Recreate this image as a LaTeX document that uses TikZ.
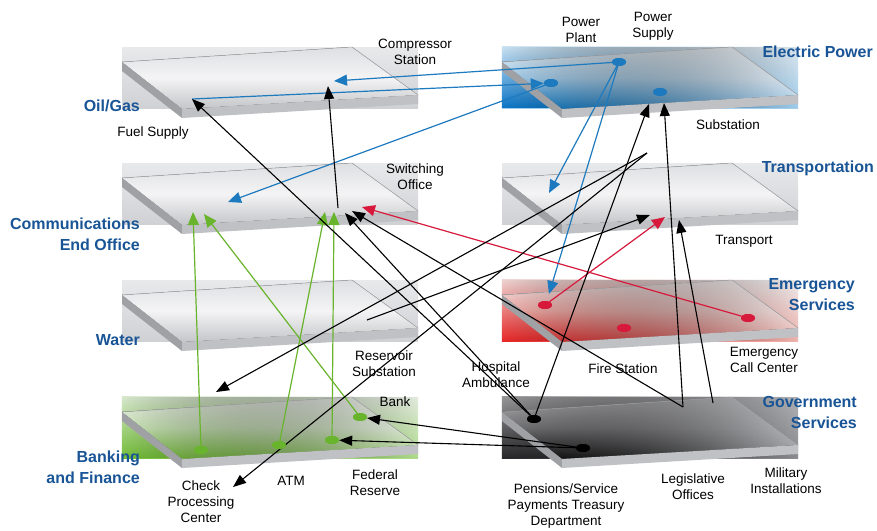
\documentclass[tikz,border=0pt]{standalone}
\usepackage{fontspec}
\setmainfont{Liberation Sans}
\usetikzlibrary{arrows.meta,shapes.geometric,fadings}
\definecolor{lblue}{RGB}{25,85,150}
\definecolor{ablue}{RGB}{30,122,190}
\definecolor{ared}{RGB}{215,25,60}
\definecolor{agreen}{RGB}{105,180,45}
\definecolor{edgec}{RGB}{165,166,169}
\definecolor{sidedark}{RGB}{160,161,165}
\definecolor{sidelight}{RGB}{192,193,196}
\tikzfading[name=fadeR, left color=transparent!0, right color=transparent!100]
\tikzset{
  bgG/.style={top color={rgb,255:red,232;green,233;blue,235}, bottom color={rgb,255:red,208;green,209;blue,212}},
  faceG/.style={top color={rgb,255:red,222;green,223;blue,226}, bottom color={rgb,255:red,196;green,197;blue,200}, middle color={rgb,255:red,244;green,244;blue,245}},
  notint/.style={fill opacity=0},
  % electric
  bgE/.style={top color={rgb,255:red,222;green,232;blue,240}, bottom color={rgb,255:red,160;green,205;blue,235}},
  faceE/.style={top color={rgb,255:red,238;green,243;blue,247}, bottom color={rgb,255:red,165;green,207;blue,237}, middle color={rgb,255:red,228;green,238;blue,246}},
  bgEt/.style={top color={rgb,255:red,200;green,225;blue,242}, bottom color={rgb,255:red,10;green,118;blue,200}, path fading=fadeR},
  faceEt/.style={top color={rgb,255:red,232;green,240;blue,247}, bottom color={rgb,255:red,20;green,128;blue,205}, middle color={rgb,255:red,165;green,207;blue,237}, path fading=fadeR},
  % emergency
  bgR/.style={top color={rgb,255:red,238;green,236;blue,236}, bottom color={rgb,255:red,240;green,180;blue,175}},
  faceR/.style={top color={rgb,255:red,244;green,240;blue,240}, bottom color={rgb,255:red,240;green,185;blue,180}, middle color={rgb,255:red,243;green,228;blue,226}},
  bgRt/.style={top color={rgb,255:red,238;green,210;blue,208}, bottom color={rgb,255:red,232;green,40;blue,40}, path fading=fadeR},
  faceRt/.style={top color={rgb,255:red,244;green,232;blue,232}, bottom color={rgb,255:red,232;green,50;blue,50}, middle color={rgb,255:red,242;green,170;blue,165}, path fading=fadeR},
  % banking
  bgB/.style={top color={rgb,255:red,228;green,236;blue,224}, bottom color={rgb,255:red,175;green,220;blue,140}},
  faceB/.style={top color={rgb,255:red,238;green,242;blue,236}, bottom color={rgb,255:red,175;green,220;blue,140}, middle color={rgb,255:red,228;green,238;blue,222}},
  bgBt/.style={top color={rgb,255:red,215;green,232;blue,205}, bottom color={rgb,255:red,115;green,190;blue,55}, path fading=fadeR},
  faceBt/.style={top color={rgb,255:red,236;green,240;blue,234}, bottom color={rgb,255:red,120;green,192;blue,60}, middle color={rgb,255:red,200;green,228;blue,180}, path fading=fadeR},
  % government
  bgK/.style={top color={rgb,255:red,178;green,179;blue,182}, bottom color={rgb,255:red,140;green,141;blue,144}},
  faceK/.style={top color={rgb,255:red,198;green,199;blue,202}, bottom color={rgb,255:red,158;green,159;blue,162}, middle color={rgb,255:red,185;green,186;blue,189}},
  bgKt/.style={top color={rgb,255:red,150;green,150;blue,152}, bottom color={rgb,255:red,40;green,40;blue,42}, path fading=fadeR},
  faceKt/.style={top color={rgb,255:red,175;green,175;blue,178}, bottom color={rgb,255:red,15;green,15;blue,15}, middle color={rgb,255:red,115;green,115;blue,118}, path fading=fadeR},
  edgeline/.style={draw=edgec, line width=0.5pt},
  bl/.style={draw=ablue, line width=1.2pt, -{Triangle[length=13pt,width=11pt]}},
  rl/.style={draw=ared, line width=1.2pt, -{Triangle[length=13pt,width=11pt]}},
  gl/.style={draw=agreen, line width=1.2pt, -{Triangle[length=13pt,width=11pt]}},
  kl/.style={draw=black, line width=1.1pt, -{Triangle[length=13pt,width=10pt]}},
  dotnode/.style={ellipse, minimum width=14pt, minimum height=8pt, inner sep=0pt},
  small/.style={font=\fontsize{13.5}{16}\selectfont, align=center, inner sep=0pt},
  big/.style={font=\fontsize{16}{21}\selectfont\bfseries, text=lblue, inner sep=0pt},
}
% X, Y, bg base, face base, bg tint, face tint
\newcommand\drawplate[6]{%
  \begin{scope}[shift={(#1,#2)}]
    \fill[#3] (0,0) rectangle (296,61);
    \fill[#5] (0,0) rectangle (296,61);
    \fill[#4] (0,15) -- (230,0) -- (296,48) -- (60,62) -- cycle;
    \fill[#6] (0,15) -- (230,0) -- (296,48) -- (60,62) -- cycle;
    \draw[edgeline] (0,15) -- (230,0) -- (296,48);
    \fill[sidedark] (0,15) -- (60,62) -- (60,71) -- (0,24) -- cycle;
    \fill[sidelight] (60,62) -- (296,48) -- (296,57) -- (60,71) -- cycle;
  \end{scope}}
\begin{document}
\begin{tikzpicture}[x=1pt,y=-1pt]
\useasboundingbox (0,0) rectangle (877,530);
\fill[white] (0,0) rectangle (877,530);
% plates
\drawplate{122}{47}{bgG}{faceG}{notint}{notint}
\drawplate{122}{163}{bgG}{faceG}{notint}{notint}
\drawplate{122}{280}{bgG}{faceG}{notint}{notint}
\drawplate{122}{397}{bgB}{faceB}{bgBt}{faceBt}
\drawplate{502}{47}{bgE}{faceE}{bgEt}{faceEt}
\drawplate{502}{163}{bgG}{faceG}{notint}{notint}
\drawplate{502}{280}{bgR}{faceR}{bgRt}{faceRt}
\drawplate{502}{397}{bgK}{faceK}{bgKt}{faceKt}
% labels
\node[big, anchor=east] (lOil) at (140,106) {Oil/Gas};
\node[big, anchor=east, align=right] (lComm) at (140,234) {Communications\\End Office};
\node[big, anchor=east] (lWater) at (140,340) {Water};
\node[big, anchor=east, align=right] (lBank) at (140,467) {Banking\\and Finance};
\node[big, anchor=east] (lElec) at (873,52) {Electric Power};
\node[big, anchor=east] (lTrans) at (874,168) {Transportation};
\node[big, anchor=east, align=right] (lEmer) at (855,295) {Emergency\\Services};
\node[big, anchor=east, align=right] (lGov) at (857,412) {Government\\Services};
\node[small] (tFuel) at (153,133) {Fuel Supply};
\node[small] (tComp) at (415,52) {Compressor\\Station};
\node[small] (tPP) at (581,30) {Power\\Plant};
\node[small] (tPS) at (653,26) {Power\\Supply};
\node[small] (tSub) at (728,125) {Substation};
\node[small] (tSw) at (415,177) {Switching\\Office};
\node[small] (tTr) at (744,241) {Transport};
\node[small] (tRes) at (384,364) {Reservoir\\Substation};
\node[small] (tHosp) at (496,375) {Hospital\\Ambulance};
\node[small] (tFire) at (623,369) {Fire Station};
\node[small] (tECC) at (764,360) {Emergency\\Call Center};
\node[small] (tBank) at (395,402) {Bank};
\node[small] (tCPC) at (201,502) {Check\\Processing\\Center};
\node[small] (tATM) at (291,481) {ATM};
\node[small] (tFed) at (375,483) {Federal\\Reserve};
\node[small] (tPens) at (566,506) {Pensions/Service\\Payments Treasury\\Department};
\node[small] (tLeg) at (693,487) {Legislative\\Offices};
\node[small] (tMil) at (786,481) {Military\\Installations};
% dots
\node[dotnode, fill=ablue] (pp) at (619,62) {};
\node[dotnode, fill=ablue] (ep) at (551,83) {};
\node[dotnode, fill=ablue] (sub) at (660,92) {};
\node[dotnode, fill=ared] (fs1) at (545,305) {};
\node[dotnode, fill=ared] (fs2) at (624,328) {};
\node[dotnode, fill=ared] (ecc) at (748,318) {};
\node[dotnode, fill=agreen] (cpc) at (201,450) {};
\node[dotnode, fill=agreen] (atm) at (279,445) {};
\node[dotnode, fill=agreen] (fed) at (332,440) {};
\node[dotnode, fill=agreen] (bank) at (360,417) {};
\node[dotnode, fill=black] (hosp) at (534,419) {};
\node[dotnode, fill=black] (pens) at (583,448) {};
% coordinates
\coordinate (compB) at (334,81);
\coordinate (compK) at (328,86);
\coordinate (fuel) at (192,99);
\coordinate (commB) at (228,202);
\coordinate (commG1) at (193,212);
\coordinate (commG2) at (204,214);
\coordinate (commG3) at (325,212);
\coordinate (commG4) at (334,212);
\coordinate (sw0) at (338,208);
\coordinate (sw1) at (345,213);
\coordinate (sw2) at (352,211);
\coordinate (sw3) at (362,207);
\coordinate (trB) at (549,193);
\coordinate (trK1) at (650,215);
\coordinate (trR) at (665,217);
\coordinate (trK2) at (679,220);
\coordinate (subK1) at (649,104);
\coordinate (subK2) at (664,103);
\coordinate (xpt) at (647,153);
\coordinate (res) at (367,320);
\coordinate (bnkK) at (216,392);
\coordinate (cpcK) at (233,487);
\coordinate (leg) at (683,407);
\coordinate (mil) at (713,403);
\coordinate (emB) at (549,294);
% blue
\draw[bl] (pp) -- (compB);
\draw[bl] (fuel) -- (ep);
\draw[bl] (ep) -- (commB);
\draw[bl] (pp) -- (trB);
\draw[bl] (pp) -- (emB);
% red
\draw[rl] (ecc) -- (sw3);
\draw[rl] (fs1) -- (trR);
% green
\draw[gl] (cpc) -- (commG1);
\draw[gl] (bank) -- (commG2);
\draw[gl] (atm) -- (commG3);
\draw[gl] (fed) -- (commG4);
% black
\draw[kl] (sw0) -- (compK);
\draw[kl] (hosp) -- (fuel);
\draw[kl] (hosp) -- (sw1);
\draw[kl] (leg) -- (sw2);
\draw[kl] (hosp) -- (subK1);
\draw[kl] (leg) -- (subK2);
\draw[kl] (mil) -- (trK2);
\draw[kl] (res) -- (trK1);
\draw[kl] (xpt) -- (bnkK);
\draw[kl] (xpt) -- (cpcK);
\draw[kl] (pens) -- (bank);
\draw[kl] (pens) -- (fed);
% redraw dots on top
\foreach \n/\c in {pp/ablue,ep/ablue,sub/ablue,fs1/ared,fs2/ared,ecc/ared,cpc/agreen,atm/agreen,fed/agreen,bank/agreen,hosp/black,pens/black}
  \fill[\c] (\n.center) ellipse [x radius=7pt, y radius=4pt];
\end{tikzpicture}
\end{document}
